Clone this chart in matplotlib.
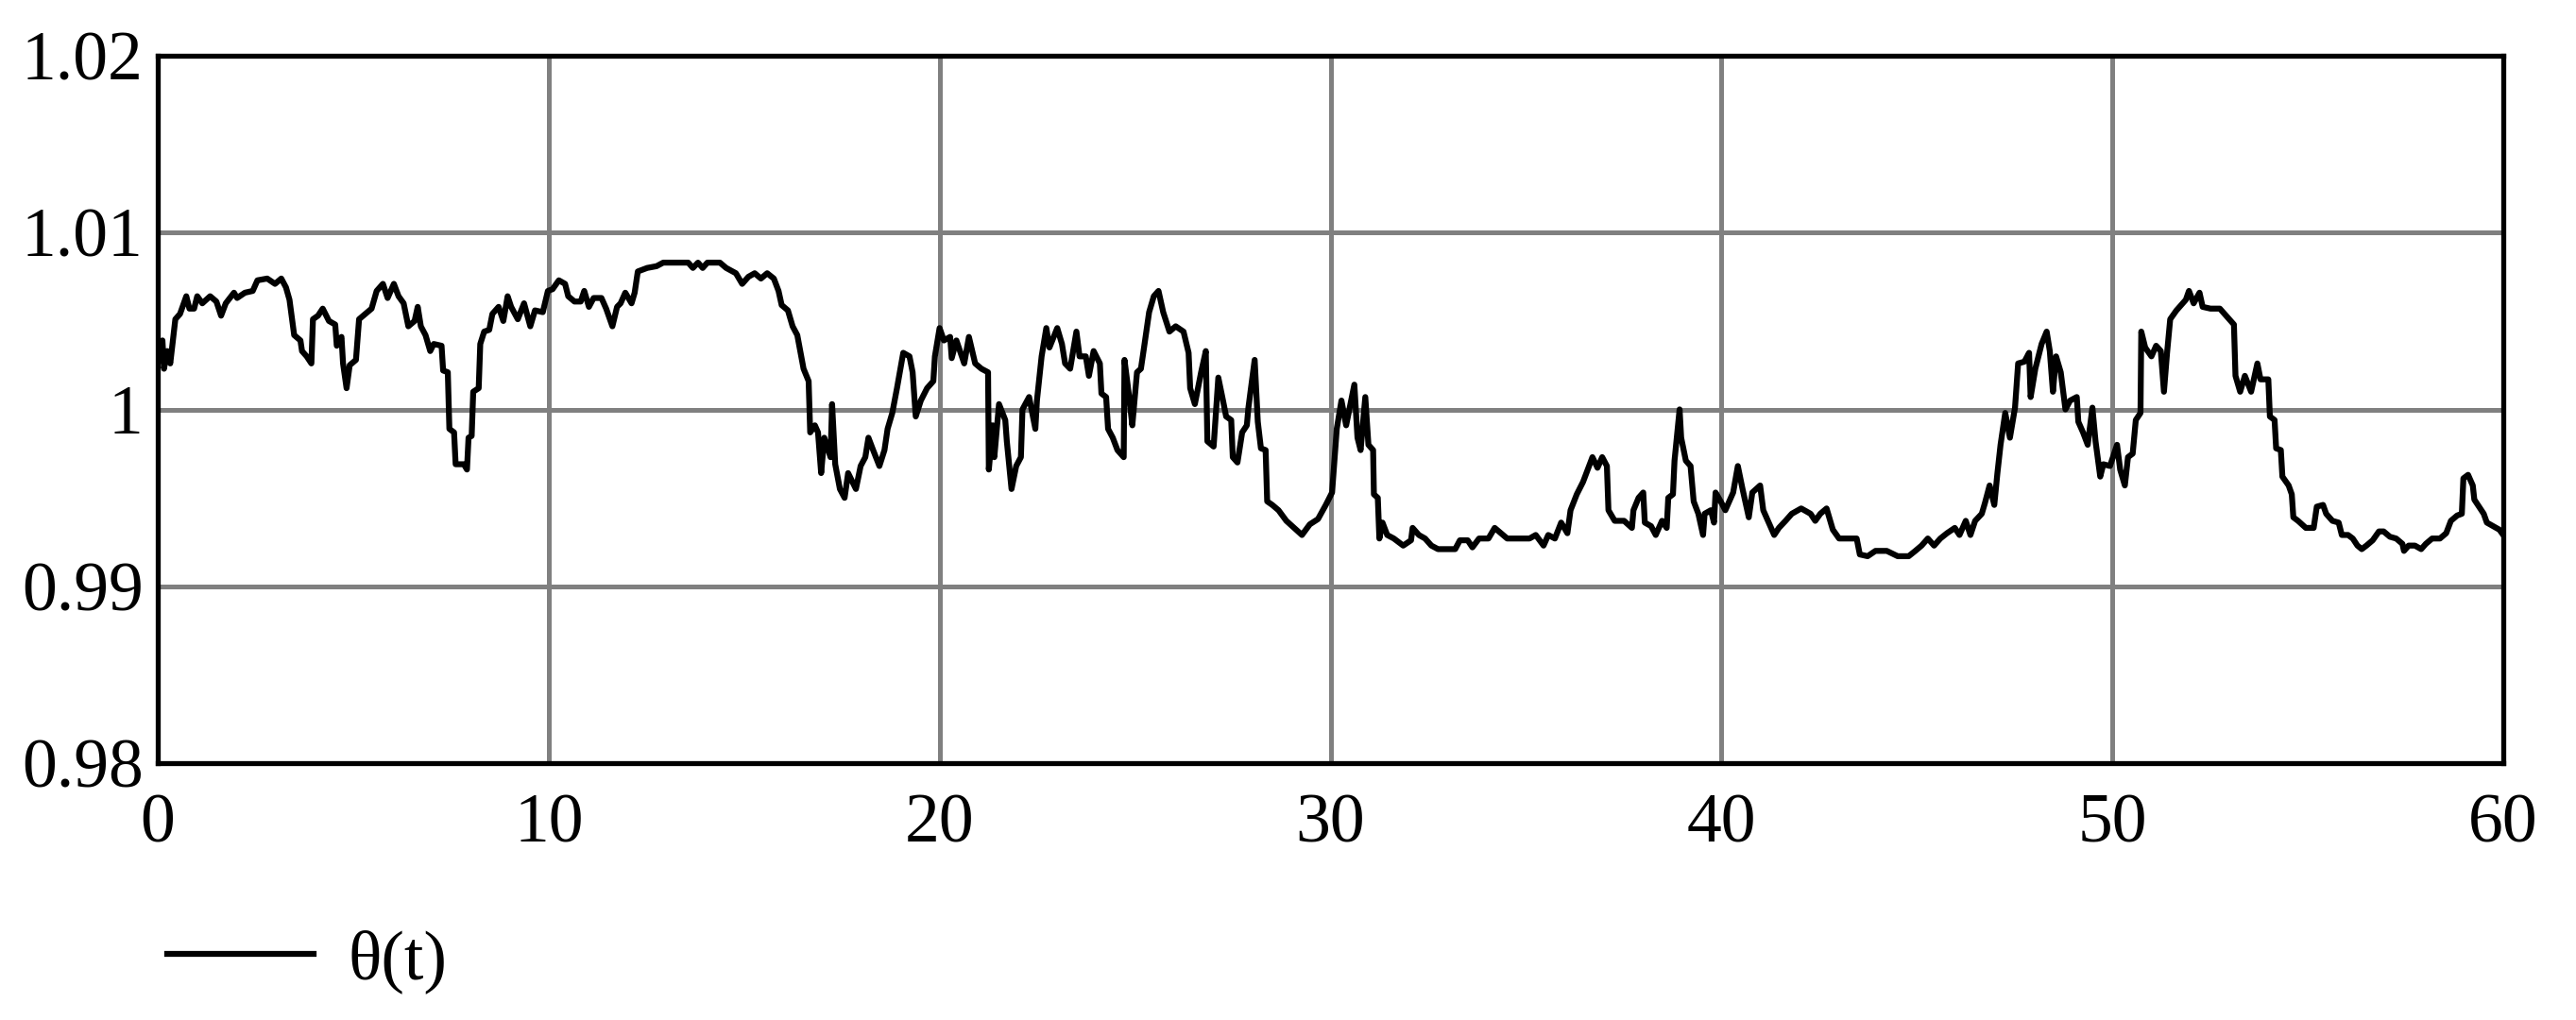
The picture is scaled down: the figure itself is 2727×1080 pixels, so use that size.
import matplotlib
matplotlib.use("Agg")
import matplotlib.pyplot as plt

# theta(t), t in s
t = [
    0.00, 0.12, 0.16, 0.24, 0.32, 0.45, 0.57, 0.73, 0.81, 0.93, 1.01, 1.14, 1.34, 1.50, 1.62, 1.74,
    1.95, 2.03, 2.23, 2.43, 2.55, 2.80, 3.00, 3.16, 3.28, 3.37, 3.49, 3.65, 3.69, 3.81, 3.93, 3.97,
    4.10, 4.22, 4.38, 4.54, 4.58, 4.70, 4.74, 4.83, 4.91, 5.07, 5.15, 5.31, 5.47, 5.60, 5.76, 5.88,
    6.04, 6.16, 6.29, 6.41, 6.57, 6.65, 6.73, 6.85, 6.97, 7.06, 7.26, 7.30, 7.42, 7.46, 7.58, 7.62,
    7.83, 7.91, 7.95, 8.03, 8.07, 8.21, 8.25, 8.35, 8.48, 8.56, 8.72, 8.84, 8.95, 9.04, 9.21, 9.37,
    9.53, 9.65, 9.85, 9.98,
    10.10, 10.26, 10.42, 10.50, 10.66, 10.82, 10.91, 11.03, 11.15, 11.35, 11.47, 11.63, 11.75, 11.84,
    11.96, 12.12, 12.20, 12.28, 12.52, 12.76, 12.93, 13.25, 13.57, 13.69, 13.82, 13.94, 14.06, 14.38,
    14.54, 14.79, 14.95, 15.11, 15.27, 15.43, 15.59, 15.76, 15.88, 15.96, 16.12, 16.24, 16.36, 16.52,
    16.65, 16.69, 16.81, 16.89, 16.97, 17.05, 17.21, 17.25, 17.33, 17.45, 17.57, 17.66, 17.86, 17.98,
    18.10, 18.18, 18.30, 18.46, 18.59, 18.67, 18.79, 18.91, 19.07, 19.23, 19.31, 19.39, 19.52, 19.68,
    19.84, 19.88, 20.00,
    20.11, 20.27, 20.31, 20.43, 20.63, 20.75, 20.91, 21.07, 21.24, 21.26, 21.36, 21.40, 21.52, 21.68,
    21.72, 21.84, 21.96, 22.08, 22.12, 22.29, 22.45, 22.49, 22.61, 22.73, 22.81, 23.01, 23.13, 23.21,
    23.34, 23.50, 23.58, 23.74, 23.82, 23.94, 24.10, 24.14, 24.26, 24.31, 24.43, 24.55, 24.71, 24.73,
    24.85, 24.93, 25.05, 25.15, 25.23, 25.36, 25.48, 25.60, 25.72, 25.88, 26.04, 26.24, 26.37, 26.41,
    26.53, 26.69, 26.81, 26.85, 27.01, 27.13, 27.25, 27.33, 27.46, 27.50, 27.62, 27.74, 27.86, 27.90,
    28.06, 28.14, 28.22, 28.34, 28.38, 28.51, 28.67, 28.87, 29.07, 29.27, 29.47, 29.68, 29.88, 30.04,
    30.16, 30.28, 30.40, 30.61, 30.69, 30.77, 30.89, 30.97, 31.09, 31.11, 31.21, 31.25, 31.33, 31.45,
    31.62, 31.86, 32.06, 32.10, 32.26, 32.42, 32.58, 32.75, 32.99, 33.19, 33.31, 33.51, 33.63, 33.80,
    34.04, 34.20, 34.36, 34.52, 34.77, 35.09, 35.25, 35.45, 35.57, 35.74, 35.90, 36.06, 36.14, 36.30,
    36.46, 36.58, 36.70, 36.83, 36.95, 37.07, 37.11, 37.27, 37.51, 37.71, 37.75, 37.88, 38.00, 38.04,
    38.20, 38.32, 38.48, 38.60, 38.64, 38.76, 38.80, 38.93, 38.97, 39.09, 39.21, 39.29, 39.41, 39.53,
    39.57, 39.73, 39.81, 39.85, 39.98,
    40.10, 40.30, 40.42, 40.54, 40.70, 40.79, 40.99, 41.07, 41.19, 41.35, 41.47, 41.64, 41.80, 42.04,
    42.28, 42.40, 42.53, 42.69, 42.85, 43.01, 43.26, 43.46, 43.54, 43.74, 43.94, 44.23, 44.51, 44.79,
    44.96, 45.12, 45.28, 45.44, 45.60, 45.77, 45.97, 46.09, 46.25, 46.37, 46.49, 46.66, 46.74, 46.86,
    46.98, 47.06, 47.14, 47.26, 47.38, 47.51, 47.59, 47.75, 47.87, 47.91, 48.03, 48.19, 48.32, 48.40,
    48.48, 48.56, 48.68, 48.80, 48.92, 49.09, 49.13, 49.25, 49.37, 49.49, 49.57, 49.69, 49.77, 49.94,
    50.12, 50.20, 50.32, 50.40, 50.52, 50.60, 50.72, 50.74, 50.84, 51.00, 51.12, 51.24, 51.32, 51.40,
    51.48, 51.64, 51.88, 51.96, 52.08, 52.23, 52.31, 52.51, 52.75, 52.95, 53.11, 53.15, 53.27, 53.39,
    53.55, 53.71, 53.79, 53.99, 54.03, 54.15, 54.19, 54.31, 54.35, 54.51, 54.59, 54.63, 54.75, 54.95,
    55.15, 55.23, 55.39, 55.47, 55.63, 55.79, 55.87, 56.03, 56.15, 56.27, 56.38, 56.50, 56.66, 56.82,
    56.94, 57.10, 57.26, 57.42, 57.46, 57.58, 57.74, 57.90, 58.02, 58.18, 58.38, 58.54, 58.66, 58.82,
    58.94, 58.98, 59.10, 59.22, 59.26, 59.38, 59.50, 59.58, 59.74, 59.90, 60.00,
]

theta = [
    1.0026, 1.0039, 1.0023, 1.0033, 1.0026, 1.0051, 1.0054, 1.0064, 1.0057, 1.0057, 1.0064, 1.0060, 1.0064, 1.0061, 1.0053, 1.0060,
    1.0066, 1.0063, 1.0066, 1.0067, 1.0073, 1.0074, 1.0071, 1.0074, 1.0069, 1.0062, 1.0042, 1.0039, 1.0033, 1.0030, 1.0026, 1.0051,
    1.0053, 1.0057, 1.0050, 1.0048, 1.0036, 1.0041, 1.0026, 1.0012, 1.0025, 1.0028, 1.0051, 1.0054, 1.0057, 1.0067, 1.0071, 1.0063,
    1.0071, 1.0064, 1.0060, 1.0047, 1.0050, 1.0058, 1.0047, 1.0042, 1.0033, 1.0037, 1.0036, 1.0022, 1.0021, 0.9989, 0.9987, 0.9969,
    0.9969, 0.9966, 0.9984, 0.9985, 1.0010, 1.0012, 1.0037, 1.0044, 1.0045, 1.0054, 1.0058, 1.0050, 1.0064, 1.0058, 1.0051, 1.0060,
    1.0047, 1.0056, 1.0055, 1.0067,
    1.0068, 1.0073, 1.0071, 1.0064, 1.0061, 1.0061, 1.0067, 1.0058, 1.0063, 1.0063, 1.0057, 1.0047, 1.0058, 1.0060,
    1.0066, 1.0060, 1.0066, 1.0078, 1.0080, 1.0081, 1.0083, 1.0083, 1.0083, 1.0080, 1.0083, 1.0080, 1.0083, 1.0083,
    1.0080, 1.0077, 1.0071, 1.0075, 1.0077, 1.0074, 1.0077, 1.0074, 1.0067, 1.0059, 1.0056, 1.0047, 1.0042, 1.0023,
    1.0016, 0.9987, 0.9991, 0.9987, 0.9964, 0.9984, 0.9973, 1.0003, 0.9969, 0.9955, 0.9950, 0.9964, 0.9955, 0.9968,
    0.9973, 0.9984, 0.9977, 0.9968, 0.9977, 0.9989, 0.9998, 1.0012, 1.0032, 1.0030, 1.0021, 0.9996, 1.0005, 1.0012,
    1.0016, 1.0030, 1.0046,
    1.0039, 1.0041, 1.0029, 1.0039, 1.0026, 1.0041, 1.0026, 1.0023, 1.0021, 0.9966, 0.9991, 0.9973, 1.0003, 0.9994,
    0.9982, 0.9955, 0.9968, 0.9973, 1.0000, 1.0007, 0.9989, 1.0005, 1.0030, 1.0046, 1.0035, 1.0046, 1.0037, 1.0026,
    1.0023, 1.0044, 1.0030, 1.0030, 1.0019, 1.0033, 1.0026, 1.0009, 1.0007, 0.9989, 0.9984, 0.9977, 0.9973, 1.0028,
    1.0007, 0.9991, 1.0021, 1.0023, 1.0035, 1.0055, 1.0064, 1.0067, 1.0055, 1.0044, 1.0047, 1.0044, 1.0032, 1.0012,
    1.0003, 1.0021, 1.0033, 0.9982, 0.9979, 1.0018, 1.0005, 0.9996, 0.9994, 0.9973, 0.9970, 0.9987, 0.9991, 1.0001,
    1.0028, 0.9993, 0.9978, 0.9977, 0.9948, 0.9946, 0.9943, 0.9937, 0.9933, 0.9929, 0.9935, 0.9938, 0.9946, 0.9953,
    0.9989, 1.0005, 0.9991, 1.0014, 0.9984, 0.9977, 1.0007, 0.9980, 0.9977, 0.9952, 0.9950, 0.9927, 0.9936, 0.9929,
    0.9927, 0.9923, 0.9926, 0.9933, 0.9929, 0.9927, 0.9923, 0.9921, 0.9921, 0.9921, 0.9926, 0.9926, 0.9922, 0.9927,
    0.9927, 0.9933, 0.9930, 0.9927, 0.9927, 0.9927, 0.9929, 0.9923, 0.9929, 0.9927, 0.9936, 0.9930, 0.9943, 0.9952,
    0.9959, 0.9966, 0.9973, 0.9967, 0.9973, 0.9968, 0.9943, 0.9937, 0.9937, 0.9933, 0.9943, 0.9950, 0.9953, 0.9936,
    0.9934, 0.9929, 0.9937, 0.9933, 0.9950, 0.9952, 0.9971, 1.0000, 0.9984, 0.9971, 0.9968, 0.9948, 0.9941, 0.9929,
    0.9941, 0.9943, 0.9936, 0.9953, 0.9948,
    0.9943, 0.9953, 0.9968, 0.9955, 0.9939, 0.9953, 0.9957, 0.9943, 0.9937, 0.9929, 0.9933, 0.9937, 0.9941, 0.9944,
    0.9941, 0.9937, 0.9941, 0.9944, 0.9932, 0.9927, 0.9927, 0.9927, 0.9918, 0.9917, 0.9920, 0.9920, 0.9917, 0.9917,
    0.9920, 0.9923, 0.9927, 0.9923, 0.9927, 0.9930, 0.9933, 0.9929, 0.9937, 0.9929, 0.9937, 0.9941, 0.9947, 0.9957,
    0.9946, 0.9964, 0.9980, 0.9998, 0.9984, 1.0001, 1.0026, 1.0027, 1.0032, 1.0007, 1.0023, 1.0037, 1.0044, 1.0033,
    1.0010, 1.0030, 1.0021, 1.0000, 1.0005, 1.0007, 0.9993, 0.9987, 0.9980, 1.0001, 0.9982, 0.9962, 0.9969, 0.9968,
    0.9980, 0.9966, 0.9957, 0.9973, 0.9975, 0.9994, 0.9998, 1.0044, 1.0035, 1.0030, 1.0036, 1.0033, 1.0010, 1.0032,
    1.0051, 1.0056, 1.0062, 1.0067, 1.0060, 1.0066, 1.0058, 1.0057, 1.0057, 1.0052, 1.0048, 1.0019, 1.0010, 1.0019,
    1.0010, 1.0026, 1.0017, 1.0017, 0.9996, 0.9994, 0.9978, 0.9977, 0.9962, 0.9957, 0.9952, 0.9939, 0.9937, 0.9933,
    0.9933, 0.9945, 0.9946, 0.9941, 0.9937, 0.9936, 0.9929, 0.9929, 0.9927, 0.9923, 0.9921, 0.9923, 0.9926, 0.9931,
    0.9931, 0.9928, 0.9927, 0.9924, 0.9920, 0.9923, 0.9923, 0.9921, 0.9924, 0.9927, 0.9927, 0.9930, 0.9937, 0.9940,
    0.9941, 0.9961, 0.9963, 0.9957, 0.9949, 0.9945, 0.9941, 0.9936, 0.9934, 0.9932, 0.9929,
]

x_ticks = [0, 10, 20, 30, 40, 50, 60]
y_ticks = [0.98, 0.99, 1.0, 1.01, 1.02]
y_tick_labels = ["0.98", "0.99", "1", "1.01", "1.02"]

plt.rcParams["font.family"] = ["Liberation Serif", "DejaVu Serif"]

W, H = 2727, 1080
fig = plt.figure(figsize=(W / 100, H / 100), dpi=100)
ax = fig.add_axes([167 / W, 1 - 808 / H, (2650 - 167) / W, (808 - 59) / H])

line, = ax.plot(t, theta, color="black", linewidth=4.5, label="\u03b8(t)")

ax.set_xlim(0, 60)
ax.set_ylim(0.98, 1.02)
ax.set_xticks(x_ticks)
ax.set_xticklabels([str(v) for v in x_ticks])
ax.set_yticks(y_ticks)
ax.set_yticklabels(y_tick_labels)
ax.tick_params(axis="both", length=0, labelsize=53, colors="black")
ax.tick_params(axis="x", pad=23)
ax.tick_params(axis="y", pad=11)

ax.set_axisbelow(True)
ax.grid(True, color="#808080", linewidth=3.6)
for side in ["left", "right", "top", "bottom"]:
    ax.spines[side].set_color("black")
    ax.spines[side].set_linewidth(3.8)

fig.legend(
    handles=[line],
    loc="center left",
    bbox_to_anchor=(177 / W, 62 / H),
    bbox_transform=fig.transFigure,
    frameon=False,
    fontsize=53,
    handlelength=2.1,
    handletextpad=0.5,
    borderpad=0,
    borderaxespad=0,
)

fig.savefig("out.png", dpi=100)
plt.close(fig)
